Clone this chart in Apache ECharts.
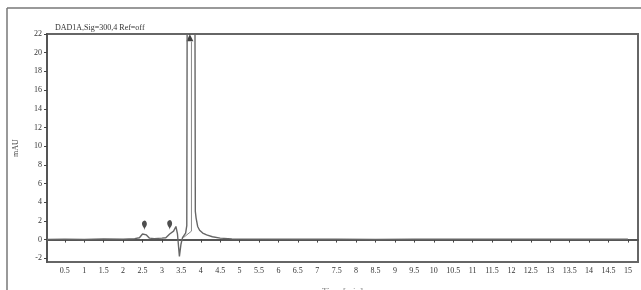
<!DOCTYPE html>
<html>
<head>
<meta charset="utf-8">
<script src="https://cdn.jsdelivr.net/npm/echarts@6/dist/echarts.min.js"></script>
<style>
  html, body { margin: 0; padding: 0; background: #fff; }
  #chart { width: 641px; height: 290px; }
</style>
</head>
<body>
<div id="chart"></div>
<script>
// retention time (min) and signal (mAU)
const times = [0.04, 0.5, 1, 1.5, 2, 2.3, 2.42, 2.5, 2.55, 2.6, 2.68, 2.8, 3.0, 3.1, 3.15, 3.2, 3.25, 3.3,
  3.36, 3.4, 3.45, 3.49, 3.53, 3.57, 3.61, 3.64, 3.65, 3.85, 3.86, 3.88, 3.92, 3.97, 4.05, 4.15, 4.3,
  4.5, 4.8, 5.5, 6.5, 7.5, 8.5, 9.5, 10.5, 11.5, 12.5, 13.5, 14.5, 15.0];
const signal = [0.0, 0.05, 0.0, 0.08, 0.05, 0.1, 0.2, 0.6, 0.75, 0.5, 0.15, 0.1, 0.15, 0.2, 0.35, 0.6, 0.45, 0.9,
  1.4, 0.6, -1.8, -0.5, 0.2, 0.35, 0.7, 1.5, 25, 25, 3.0, 2.3, 1.4, 1.0, 0.7, 0.5, 0.3,
  0.15, 0.08, 0.05, 0.03, 0.05, 0.0, 0.05, 0.03, 0.05, 0.03, 0.05, 0.03, 0.03];
// second (inner) line at the main peak
const innerTimes = [3.55, 3.76, 3.76];
const innerSignal = [0.2, 0.9, 21.2];
// peak markers
const pinTimes = [2.55, 3.2];
const pinSignal = [1.0, 1.05];
const apexMark = [3.72, 21.6];
const xTicks = [0.5, 1, 1.5, 2, 2.5, 3, 3.5, 4, 4.5, 5, 5.5, 6, 6.5, 7, 7.5, 8, 8.5, 9, 9.5, 10,
  10.5, 11, 11.5, 12, 12.5, 13, 13.5, 14, 14.5, 15];
const yTicks = [-2, 0, 2, 4, 6, 8, 10, 12, 14, 16, 18, 20, 22];

const font = "Liberation Serif";
const chart = echarts.init(document.getElementById("chart"));
chart.setOption({
  animation: false,
  title: {
    text: "DAD1A,Sig=300,4 Ref=off",
    left: 50, top: 19,
    textStyle: { fontFamily: font, fontSize: 8, fontWeight: "normal", color: "#333" },
  },
  graphic: [
    { type: "line", shape: { x1: 7, y1: 8, x2: 641, y2: 8 }, style: { stroke: "#777", lineWidth: 1.5 } },
    { type: "line", shape: { x1: 7, y1: 8, x2: 7, y2: 290 }, style: { stroke: "#777", lineWidth: 1.5 } },
  ],
  grid: {
    left: 47, right: 3, top: 34, bottom: 28,
    containLabel: false, outerBoundsMode: "none",
    show: true, borderColor: "#666", borderWidth: 2, backgroundColor: "#fff",
  },
  xAxis: {
    type: "value", min: 0.04, max: 15.26,
    name: "Time [min]", nameLocation: "middle", nameGap: 25,
    nameTextStyle: { fontFamily: font, fontSize: 9, color: "#777" },
    axisLine: { show: true, lineStyle: { color: "#555", width: 2 } },
    axisTick: { show: true, length: 3, customValues: xTicks, lineStyle: { color: "#444" } },
    axisLabel: {
      customValues: xTicks, margin: 5,
      fontFamily: font, fontSize: 8, color: "#333",
      formatter: (v) => String(v),
    },
    splitLine: { show: false },
  },
  yAxis: {
    type: "value", min: -2.4, max: 22,
    name: "mAU", nameLocation: "middle", nameGap: 27,
    nameTextStyle: { fontFamily: font, fontSize: 8, color: "#444" },
    axisLine: { show: true, lineStyle: { color: "#555", width: 2 } },
    axisTick: { show: true, length: 3, customValues: yTicks, lineStyle: { color: "#444" } },
    axisLabel: {
      customValues: yTicks, margin: 5,
      fontFamily: font, fontSize: 8, color: "#333",
    },
    splitLine: { show: false },
  },
  series: [
    {
      type: "line",
      data: times.map((t, i) => [t, signal[i]]),
      showSymbol: false,
      clip: true,
      lineStyle: { color: "#666", width: 1.4 },
    },
    {
      type: "line",
      data: innerTimes.map((t, i) => [t, innerSignal[i]]),
      showSymbol: false,
      clip: true,
      lineStyle: { color: "#888", width: 1 },
    },
    {
      type: "scatter",
      data: pinTimes.map((t, i) => [t, pinSignal[i]]),
      symbol: "pin",
      symbolSize: [8, 11],
      itemStyle: { color: "#222" },
    },
    {
      type: "scatter",
      data: [apexMark],
      symbol: "triangle",
      symbolSize: 7,
      itemStyle: { color: "#111" },
    },
  ],
});
</script>
</body>
</html>
